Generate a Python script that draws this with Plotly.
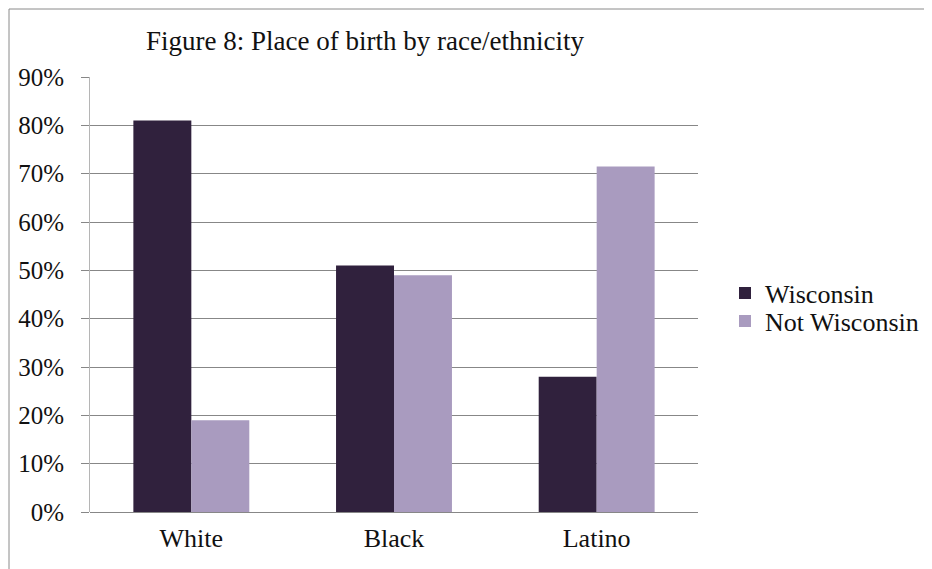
import plotly.graph_objects as go

# Place of birth by race/ethnicity (share of respondents)
categories = ["White", "Black", "Latino"]
wisconsin = [0.81, 0.51, 0.28]
not_wisconsin = [0.19, 0.49, 0.715]

DARK = "#30213D"
LIGHT = "#A99BBF"
FONT = "Liberation Serif"

# page body adds an 8px offset, so pixel targets are shifted back by it
OFF = 8
W, H = 932, 569 - OFF
L, R, T, B = 90 - OFF, 698 - OFF, 77 - OFF, 512 - OFF
pw, ph = R - L, B - T

fig = go.Figure()
fig.add_trace(go.Bar(x=categories, y=wisconsin, name="Wisconsin",
                     marker=dict(color=DARK, line=dict(width=0)),
                     legend="legend"))
fig.add_trace(go.Bar(x=categories, y=not_wisconsin, name="Not Wisconsin",
                     marker=dict(color=LIGHT, line=dict(width=0)),
                     legend="legend2"))


def legend_at(py):
    # one legend box per entry so the row spacing can follow the reference
    return dict(x=(725 - OFF - L) / pw, xanchor="left",
                y=(B - (py - OFF)) / ph, yanchor="middle",
                font=dict(family=FONT, size=26),
                bgcolor="rgba(0,0,0,0)", borderwidth=0)


fig.update_layout(
    width=W, height=H,
    margin=dict(l=L, r=W - R, t=T, b=H - B, autoexpand=False),
    paper_bgcolor="white",
    plot_bgcolor="white",
    font=dict(family=FONT, size=26, color="#111111"),
    barmode="group",
    bargap=0.428,
    bargroupgap=0,
    title=dict(text="Figure 8: Place of birth by race/ethnicity",
               x=(365 - OFF - L) / pw, xref="paper", xanchor="center",
               y=1 - (41 - OFF) / H, yanchor="middle",
               font=dict(family=FONT, size=27)),
    legend=legend_at(293),
    legend2=legend_at(321),
    showlegend=True,
)

fig.update_yaxes(
    range=[0, 0.9], dtick=0.1, tickformat=".0%",
    showgrid=True, gridcolor="#878787", gridwidth=1,
    showline=True, linecolor="#b5b5b5", linewidth=1,
    ticks="outside", ticklen=8, tickcolor="#878787",
    zeroline=True, zerolinecolor="#878787", zerolinewidth=1,
    ticklabelstandoff=12,
    tickfont=dict(family=FONT, size=25),
)
fig.update_xaxes(
    showgrid=False, showline=False, ticks="",
    ticklabelstandoff=8,
    tickfont=dict(family=FONT, size=26),
)

# outer chart frame (partly cut off on the right and bottom)
fig.add_shape(type="rect", xref="paper", yref="paper",
              x0=(1 - L) / pw, x1=(W + 40 - L) / pw,
              y0=(B - (H + 40)) / ph, y1=(B - (9 - OFF)) / ph,
              line=dict(color="#8a8a8a", width=1), layer="below")

fig.write_html("out.html")
